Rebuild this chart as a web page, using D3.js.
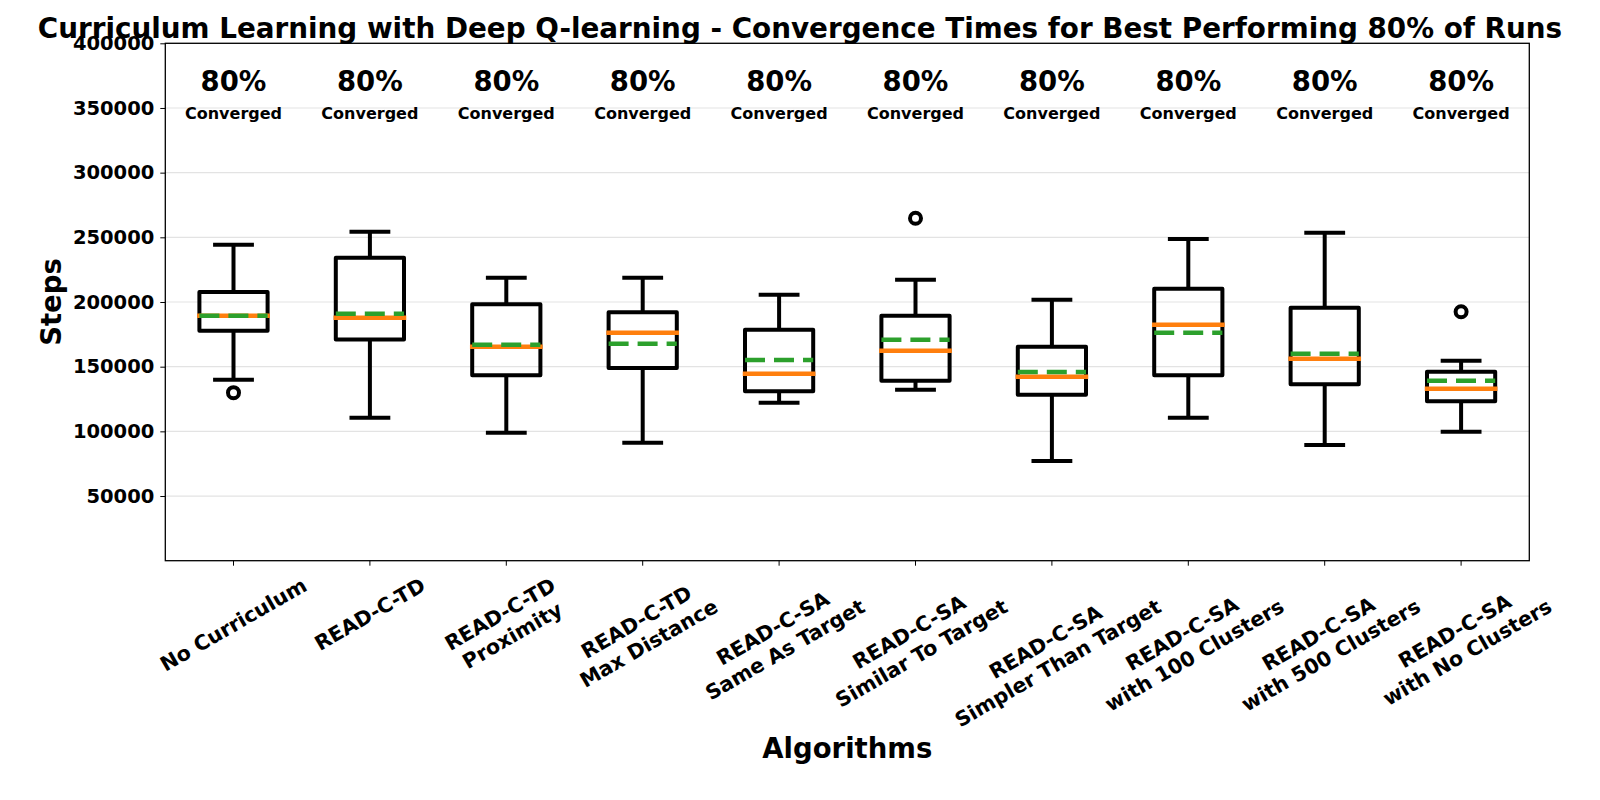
<!DOCTYPE html>
<html>
<head>
<meta charset="utf-8">
<script src="https://cdn.jsdelivr.net/npm/d3@7"></script>
<style>
  html, body { margin: 0; padding: 0; background: #fff; }
  svg { display: block; font-family: "DejaVu Sans", sans-serif; }
</style>
</head>
<body>
<svg id="chart" width="1600" height="800"></svg>
<script>
// ---- data ----
const categories = [
  "No Curriculum",
  "READ-C-TD",
  "READ-C-TD\nProximity",
  "READ-C-TD\nMax Distance",
  "READ-C-SA\nSame As Target",
  "READ-C-SA\nSimilar To Target",
  "READ-C-SA\nSimpler Than Target",
  "READ-C-SA\nwith 100 Clusters",
  "READ-C-SA\nwith 500 Clusters",
  "READ-C-SA\nwith No Clusters"
];
const whiskerLow  = [139900, 110600,  99000,  91200, 122200, 132200,  77100, 110600,  89400,  99700];
const q1          = [177800, 171100, 143300, 149000, 131000, 139200, 128300, 143300, 136400, 123200];
const medians     = [189400, 187900, 165400, 176300, 144600, 162400, 142300, 182500, 156200, 133000];
const q3          = [207700, 234200, 198200, 192000, 178600, 189400, 165400, 210300, 195600, 146100];
const whiskerHigh = [244300, 254300, 218800, 218800, 205600, 217200, 201800, 248700, 253600, 154600];
const means       = [189400, 191000, 167000, 167800, 155200, 170900, 145900, 176300, 160000, 139200];
const outliers    = [[129900], [], [], [], [], [264700], [], [], [], [192500]];
const convergedPct = [80, 80, 80, 80, 80, 80, 80, 80, 80, 80];
const yTicks = [50000, 100000, 150000, 200000, 250000, 300000, 350000, 400000];
const titleText = "Curriculum Learning with Deep Q-learning - Convergence Times for Best Performing 80% of Runs";
const xLabelText = "Algorithms";
const yLabelText = "Steps";

// ---- layout ----
const pLeft = 165.3, pRight = 1529.3, pTop = 43.3, pBottom = 560.7;
const svg = d3.select("#chart");

const x = d3.scaleBand().domain(d3.range(categories.length)).range([pLeft, pRight]).paddingInner(0).paddingOuter(0);
const xc = i => x(i) + x.bandwidth() / 2;
const y = d3.scaleLinear().domain([0, 400000]).range([pBottom, pTop]);

const boxHalf = x.bandwidth() * 0.25;
const capHalf = x.bandwidth() * 0.135;

// gridlines
svg.append("g")
  .selectAll("line").data(yTicks).join("line")
  .attr("x1", pLeft).attr("x2", pRight)
  .attr("y1", d => y(d)).attr("y2", d => y(d))
  .attr("stroke", "#e3e3e3").attr("stroke-width", 1.2);

// y axis
const yAxis = svg.append("g").attr("transform", `translate(${pLeft},0)`)
  .call(d3.axisLeft(y).tickValues(yTicks).tickFormat(d3.format("d")).tickSizeOuter(0).tickSize(5).tickPadding(6));
yAxis.select(".domain").remove();
yAxis.selectAll("text").attr("font-size", 19.5).attr("font-weight", "bold").attr("fill", "#000")
  .attr("font-family", "DejaVu Sans");
yAxis.selectAll("line").attr("stroke", "#000");

// x axis ticks
const xAxis = svg.append("g").attr("transform", `translate(0,${pBottom})`)
  .call(d3.axisBottom(x).tickSize(5).tickSizeOuter(0).tickFormat(""));
xAxis.select(".domain").remove();
xAxis.selectAll("line").attr("stroke", "#000");

// frame
svg.append("rect").attr("x", pLeft).attr("y", pTop).attr("width", pRight - pLeft).attr("height", pBottom - pTop)
  .attr("fill", "none").attr("stroke", "#000").attr("stroke-width", 1.3);

// boxes
const boxes = svg.append("g");
categories.forEach((c, i) => {
  const cx = xc(i);
  const g = boxes.append("g");
  g.append("line").attr("x1", cx).attr("x2", cx).attr("y1", y(q3[i])).attr("y2", y(whiskerHigh[i]))
    .attr("stroke", "#000").attr("stroke-width", 4);
  g.append("line").attr("x1", cx).attr("x2", cx).attr("y1", y(q1[i])).attr("y2", y(whiskerLow[i]))
    .attr("stroke", "#000").attr("stroke-width", 4);
  [whiskerHigh[i], whiskerLow[i]].forEach(v => {
    g.append("line").attr("x1", cx - capHalf).attr("x2", cx + capHalf).attr("y1", y(v)).attr("y2", y(v))
      .attr("stroke", "#000").attr("stroke-width", 4).attr("stroke-linecap", "square");
  });
  g.append("rect").attr("x", cx - boxHalf).attr("width", 2 * boxHalf)
    .attr("y", y(q3[i])).attr("height", y(q1[i]) - y(q3[i]))
    .attr("fill", "none").attr("stroke", "#000").attr("stroke-width", 4).attr("stroke-linejoin", "round");
  g.append("line").attr("x1", cx - boxHalf).attr("x2", cx + boxHalf).attr("y1", y(medians[i])).attr("y2", y(medians[i]))
    .attr("stroke", "#ff7f0e").attr("stroke-width", 4.5).attr("stroke-linecap", "square");
  g.append("line").attr("x1", cx - boxHalf).attr("x2", cx + boxHalf).attr("y1", y(means[i])).attr("y2", y(means[i]))
    .attr("stroke", "#2ca02c").attr("stroke-width", 4.5).attr("stroke-dasharray", "20,9");
  outliers[i].forEach(v => {
    g.append("circle").attr("cx", cx).attr("cy", y(v)).attr("r", 5.5)
      .attr("fill", "none").attr("stroke", "#000").attr("stroke-width", 4);
  });
  svg.append("text").attr("x", cx).attr("y", y(363500)).attr("text-anchor", "middle")
    .attr("font-size", 27.5).attr("font-weight", "bold").text(convergedPct[i] + "%");
  svg.append("text").attr("x", cx).attr("y", y(341500)).attr("text-anchor", "middle")
    .attr("font-size", 16).attr("font-weight", "bold").text("Converged");
});

// x tick labels rotated 30 deg, bbox centered on tick
const labelTop = 573;
categories.forEach((c, i) => {
  const outer = svg.append("g");
  const inner = outer.append("g").attr("transform", "rotate(-30)");
  const t = inner.append("text").attr("text-anchor", "middle").attr("font-size", 20.5).attr("font-weight", "bold");
  c.split("\n").forEach((ln, k) => {
    t.append("tspan").attr("x", 0).attr("dy", k === 0 ? 0 : "1.2em").text(ln);
  });
  const bb = outer.node().getBBox();
  const tx = xc(i) - (bb.x + bb.width / 2);
  const ty = labelTop - bb.y;
  outer.attr("transform", `translate(${tx},${ty})`);
});

// title
svg.append("text").attr("x", 800).attr("y", 38.3).attr("text-anchor", "middle")
  .attr("font-size", 27.8).attr("font-weight", "bold").text(titleText);

// axis labels
svg.append("text").attr("x", (pLeft + pRight) / 2).attr("y", 758.3).attr("text-anchor", "middle")
  .attr("font-size", 27.5).attr("font-weight", "bold").text(xLabelText);
svg.append("text").attr("transform", `translate(61,${(pTop + pBottom) / 2}) rotate(-90)`).attr("text-anchor", "middle")
  .attr("font-size", 27.5).attr("font-weight", "bold").text(yLabelText);
</script>
</body>
</html>
